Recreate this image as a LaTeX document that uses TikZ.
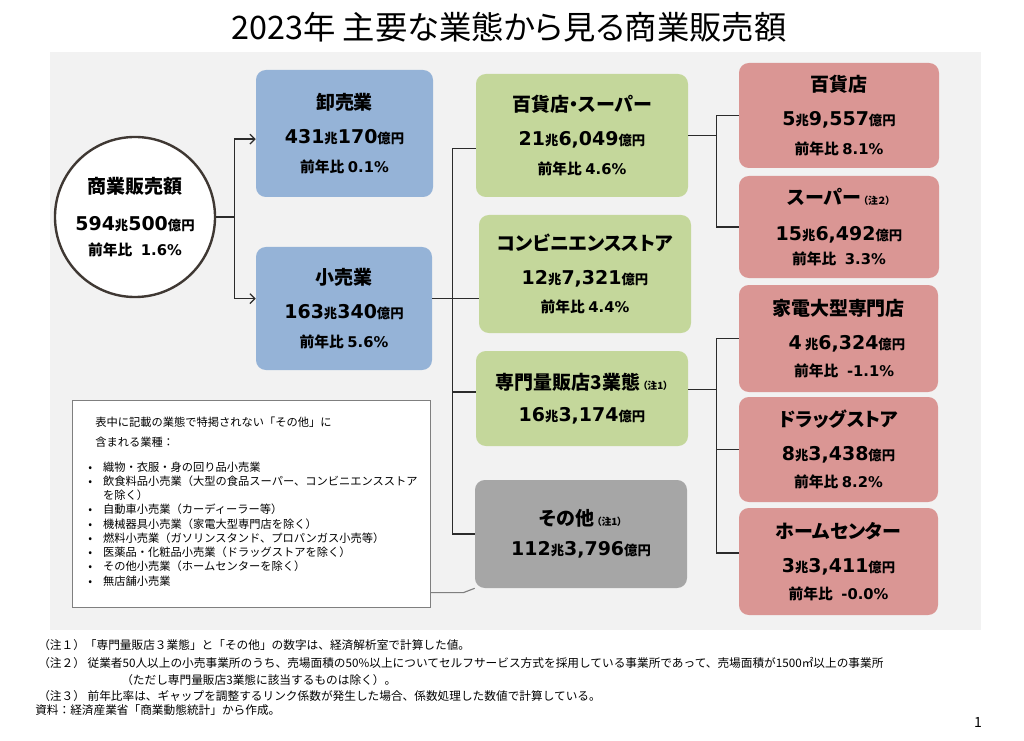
\documentclass[tikz,border=0pt]{standalone}
\usepackage{fontspec}
\setmainfont{Noto Sans CJK JP}[RawFeature={+palt}]
\newfontfamily\plainjp{Noto Sans CJK JP}
\newfontfamily\numfont{DejaVu Sans}
\usepackage{xcolor}
\usetikzlibrary{positioning,calc,arrows.meta}
\definecolor{panelbg}{HTML}{F2F2F2}
\definecolor{wsblue}{HTML}{95B3D7}
\definecolor{rtgreen}{HTML}{C4D79B}
\definecolor{stpink}{HTML}{DA9694}
\definecolor{othgray}{HTML}{A6A6A6}
\definecolor{darkline}{HTML}{2B2B2B}
\definecolor{ringcol}{HTML}{3F3833}
\definecolor{notegray}{HTML}{7F7F7F}

\newcommand{\hd}[1]{{\bfseries\fontsize{13.5}{14}\selectfont #1}}
\newcommand{\amt}[2]{{\bfseries\numfont\fontsize{13.5}{14}\selectfont #1}{\bfseries\fontsize{9.5}{10}\selectfont 兆}{\bfseries\numfont\fontsize{13.5}{14}\selectfont #2}{\bfseries\fontsize{9.5}{10}\selectfont 億円}}
\newcommand{\yoy}[1]{{\bfseries\fontsize{10.5}{11}\selectfont 前年比 {\numfont #1\%}}}
\newcommand{\chu}[1]{{\bfseries\fontsize{7}{7}\selectfont （注#1）}}
\newcommand{\blt}{\makebox[10.6pt][l]{•}}

\tikzset{
  boxbase/.style={rounded corners=7pt, inner sep=2pt, align=center, text=black,
    font=\fontsize{10}{24}\selectfont},
  wh/.style 2 args={minimum width=#1*0.025cm, minimum height=#2*0.025cm},
  bluebox/.style={boxbase, fill=wsblue},
  greenbox/.style={boxbase, fill=rtgreen},
  pinkbox/.style={boxbase, fill=stpink},
  graybox/.style={boxbase, fill=othgray},
  link/.style={draw=darkline, line width=0.9pt},
  fnote/.style={anchor=west, inner sep=0pt, font=\plainjp\fontsize{8.3}{10}\selectfont}
}

\begin{document}
\begin{tikzpicture}[x=0.025cm, y=-0.025cm, >={Straight Barb[length=3.5pt,width=7pt]}]
  \useasboundingbox (0,0) rectangle (1024,741);
  \fill[white] (0,0) rectangle (1024,741);
  \node[font=\fontsize{23}{24}\selectfont] (title) at (509,27) {2023年 主要な業態から見る商業販売額};
  \fill[panelbg] (50,52) rectangle (981,630);

  % total
  \node[circle, draw=ringcol, line width=1.7pt, fill=white, minimum size=4cm, align=center,
        font=\fontsize{10}{26}\selectfont] (tot) at (135,217)
        {\hd{商業販売額}\\ \amt{594}{500}\\[-8pt] \yoy{\ 1.6}};

  % wholesale / retail
  \node[bluebox, wh={177}{127}] (whs) at (344.5,133.5)
        {\hd{卸売業}\\ \amt{431}{170}\\[-3.5pt] \yoy{0.1}};
  \node[bluebox, wh={176}{123}] (rtl) at (344,308.5)
        {\hd{小売業}\\ \amt{163}{340}\\[-3.5pt] \yoy{5.6}};

  % retail breakdown
  \node[greenbox, wh={212}{123}] (dps) at (582,135.5)
        {\hd{百貨店・スーパー}\\ \amt{21}{6,049}\\[-3.5pt] \yoy{4.6}};
  \node[greenbox, wh={212}{118}] (cvs) at (585,274)
        {\hd{コンビニエンスストア}\\ \amt{12}{7,321}\\[-3.5pt] \yoy{4.4}};
  \node[greenbox, wh={212}{95}] (spc) at (582,398.5)
        {\hd{専門量販店3業態}\,\chu{1}\\[-1pt] \amt{16}{3,174}};
  \node[graybox, wh={212}{108}] (oth) at (581,534)
        {\hd{その他}\,\chu{1}\\[-3pt] \amt{112}{3,796}};

  % store types
  \node[pinkbox, wh={200}{105}] (dep) at (839,115.5)
        {\hd{百貨店}\\ \amt{5}{9,557}\\[-3.5pt] \yoy{8.1}};
  \node[pinkbox, wh={200}{102}] (sup) at (839,227)
        {\hd{スーパー}\,\chu{２}\\[2pt] \amt{15}{6,492}\\[-7pt] \yoy{\ 3.3}};
  \node[pinkbox, wh={199}{107}] (kad) at (838.5,338.5)
        {\hd{家電大型専門店}\\ \hspace*{12pt}\amt{4\,}{6,324}\\[-4.5pt] \hspace*{8pt}\yoy{\ -1.1}};
  \node[pinkbox, wh={199}{105}] (drg) at (838.5,449.5)
        {\hd{ドラッグストア}\\ \amt{8}{3,438}\\[-4.5pt] \yoy{8.2}};
  \node[pinkbox, wh={199}{107}] (hom) at (838.5,561.5)
        {\hd{ホームセンター}\\ \amt{3}{3,411}\\[-4.5pt] \yoy{\ -0.0}};

  % connectors
  \draw[link] (tot.east) -- ++(18,0) coordinate (j0);
  \draw[link, ->] (j0) |- ([yshift=-4pt]whs.west);
  \draw[link, ->] (j0) |- ([yshift=7pt]rtl.west);

  \coordinate (r1) at ([yshift=7pt]rtl.east);
  \draw[link] (r1) -- (r1 -| cvs.west);
  \draw[link] ([yshift=-9.5pt]dps.west) -- ++(-23,0) coordinate (ba) |- (oth.west);
  \coordinate (s0) at ([yshift=4.6pt]spc.west);
  \draw[link] (s0) -- (s0 -| ba);

  \draw[link] (dep.west) -- ++(-22,0) coordinate (ua) |- (sup.west);
  \draw[link] (dps.east) -- (dps.east -| ua);
  \draw[link] (kad.west) -- ++(-22,0) coordinate (la) |- ([yshift=6pt]hom.west);
  \draw[link] (drg.west) -- (drg.west -| la);
  \coordinate (s1) at ([yshift=6.5pt]spc.east);
  \draw[link] (s1) -- (s1 -| la);

  % note on "other"
  \node[draw=notegray, line width=0.7pt, fill=white, wh={358}{207}, inner sep=0pt] (note) at (251,503.5) {};
  \node[anchor=north west, inner sep=0pt, align=left, font=\plainjp\fontsize{8}{10.1}\selectfont] (notetxt) at (88,417)
        {\hspace*{5pt}表中に記載の業態で特掲されない「その他」に\\[4pt]
         \hspace*{5pt}含まれる業種：\\[7.5pt]
         \blt 織物・衣服・身の回り品小売業\\
         \blt 飲食料品小売業（大型の食品スーパー、コンビニエンスストア\\
         \hspace*{10.6pt}を除く）\\
         \blt 自動車小売業（カーディーラー等）\\
         \blt 機械器具小売業（家電大型専門店を除く）\\
         \blt 燃料小売業（ガソリンスタンド、プロパンガス小売等）\\
         \blt 医薬品・化粧品小売業（ドラッグストアを除く）\\
         \blt その他小売業（ホームセンターを除く）\\
         \blt 無店舗小売業};
  \draw[draw=notegray, line width=0.8pt] ([yshift=10.6pt]note.south east) -- ++(33,0) -- (oth.south west);

  % footnotes
  \node[fnote] (fn1) at (38,645) {（注１）「専門量販店３業態」と「その他」の数字は、経済解析室で計算した値。};
  \node[fnote] (fn2) at (38,663) {（注２） 従業者50人以上の小売事業所のうち、売場面積の50\%以上についてセルフサービス方式を採用している事業所であって、売場面積が1500㎡以上の事業所};
  \node[fnote] (fn2b) at (121,680) {（ただし専門量販店3業態に該当するものは除く）。};
  \node[fnote] (fn3) at (38,696) {（注３） 前年比率は、ギャップを調整するリンク係数が発生した場合、係数処理した数値で計算している。};
  \node[fnote] (src) at (35,710) {資料：経済産業省「商業動態統計」から作成。};
  \node[font=\fontsize{10}{10}\selectfont] (pgno) at (978,722) {1};
\end{tikzpicture}
\end{document}
